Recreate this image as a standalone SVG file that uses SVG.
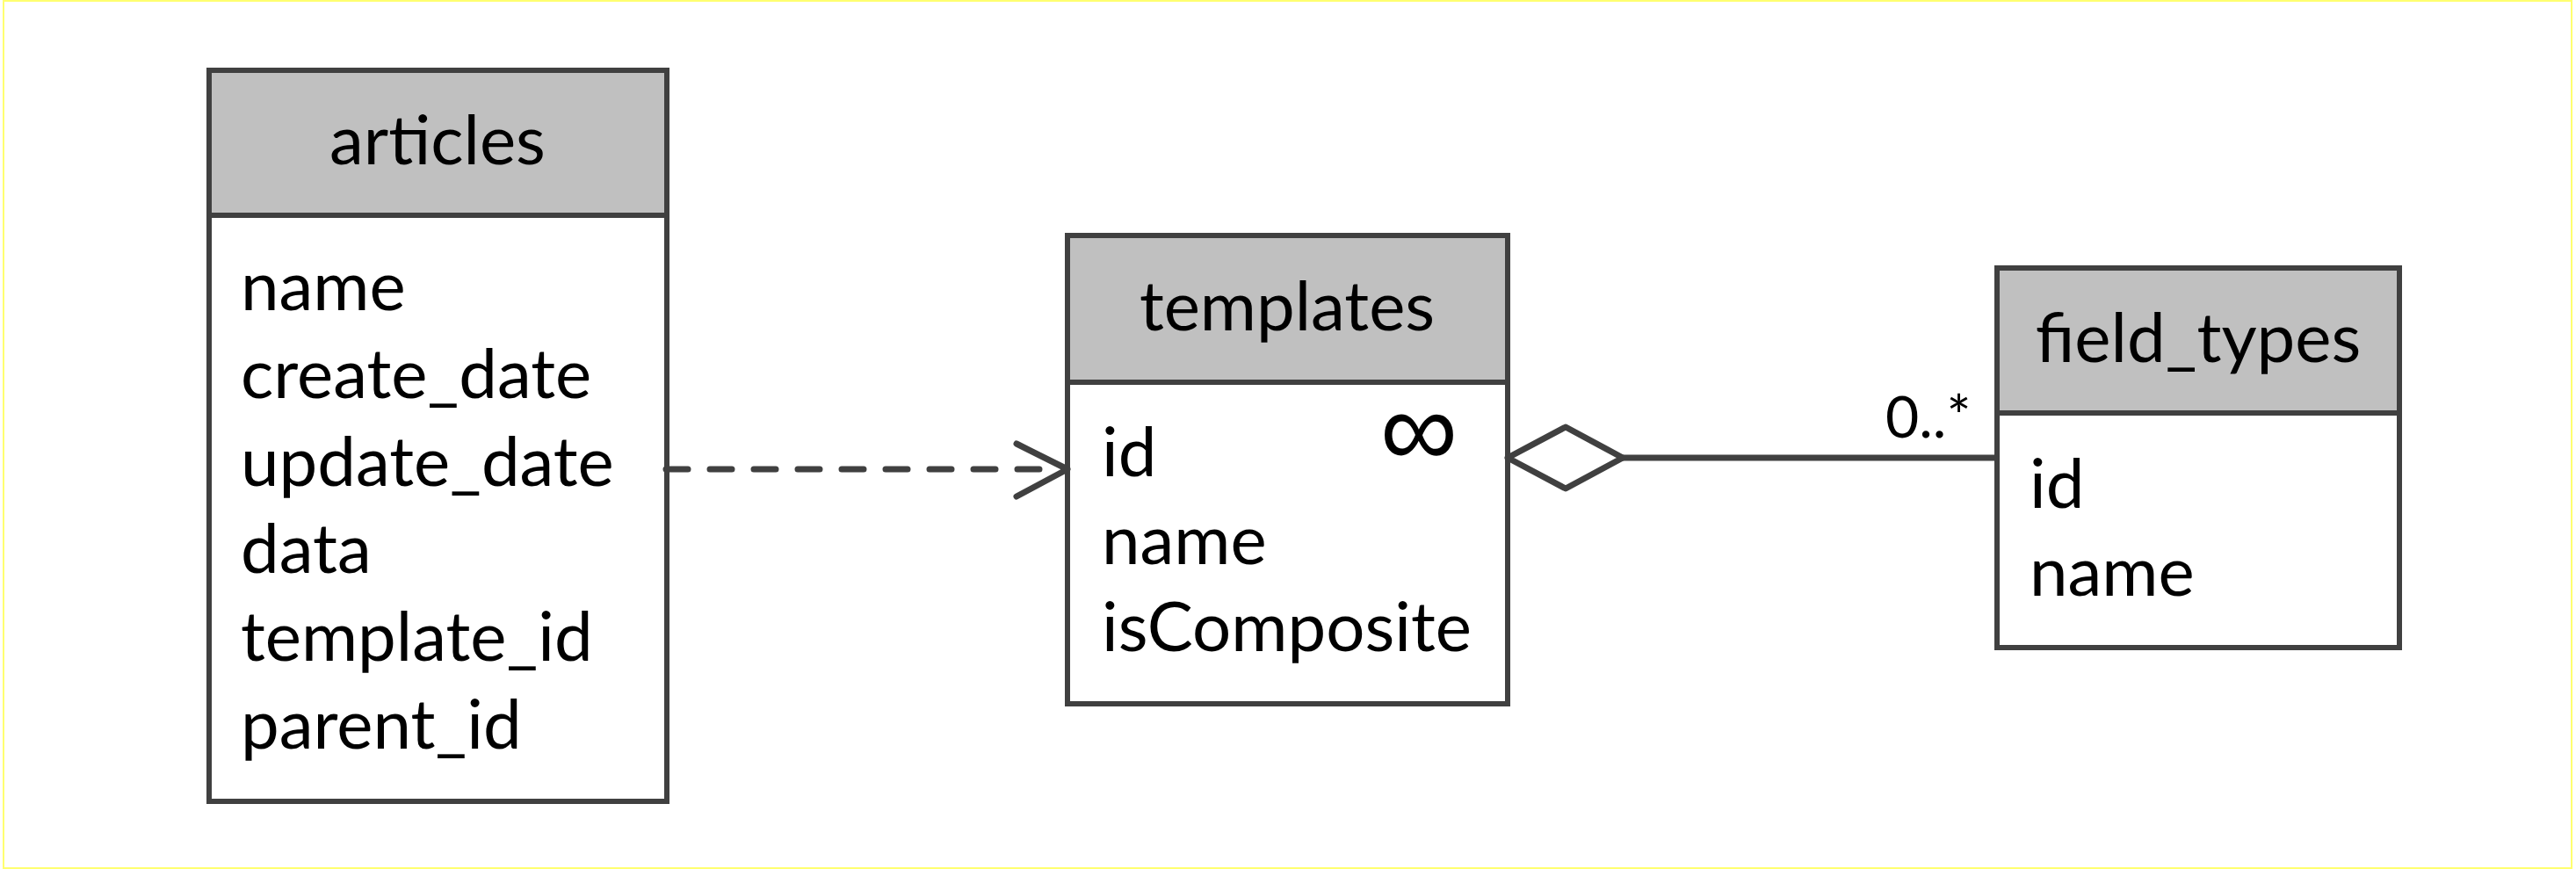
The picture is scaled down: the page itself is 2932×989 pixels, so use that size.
<svg xmlns="http://www.w3.org/2000/svg" width="2932" height="989" viewBox="0 0 2932 989">
<style>
.frame{fill:#ffffff;stroke:#ffff70;stroke-width:2}
.hdr{fill:#c0c0c0;stroke:#404040;stroke-width:6}
.body{fill:#ffffff;stroke:#404040;stroke-width:6}
.t{font-family:Lato,"Open Sans","Liberation Sans",sans-serif;font-size:78px;fill:#000000}
.title{text-anchor:middle}
.conn{fill:none;stroke:#404040;stroke-width:7;stroke-linecap:round;stroke-linejoin:round}
.lbl{font-family:Lato,"Open Sans","Liberation Sans",sans-serif;font-size:66px;fill:#000000}
.inf{font-family:"Liberation Sans",sans-serif;font-size:124px;fill:#000000;text-anchor:middle}
</style>
<rect class="frame" x="4" y="1" width="2923" height="987"/>
<g id="articles">
<rect class="body" x="238" y="245" width="521" height="667"/>
<rect class="hdr" x="238" y="80" width="521" height="165"/>
<text class="t title" x="498" y="187">articles</text>
<text class="t" x="274" y="353">name</text>
<text class="t" x="274" y="453">create_date</text>
<text class="t" x="274" y="553">update_date</text>
<text class="t" x="274" y="652">data</text>
<text class="t" x="274" y="752">template_id</text>
<text class="t" x="274" y="852">parent_id</text>
</g>
<g id="templates">
<rect class="body" x="1215" y="435" width="501" height="366"/>
<rect class="hdr" x="1215" y="268" width="501" height="167"/>
<text class="t title" x="1465" y="376">templates</text>
<text class="t" x="1254" y="542">id</text>
<text class="t" x="1254" y="642">name</text>
<text class="t" x="1254" y="741">isComposite</text>
<text class="inf" x="1615" y="531">∞</text>
</g>
<g id="field_types">
<rect class="body" x="2273" y="470" width="458" height="267"/>
<rect class="hdr" x="2273" y="305" width="458" height="165"/>
<text class="t title" x="2502" y="412">field_types</text>
<text class="t" x="2310" y="578">id</text>
<text class="t" x="2310" y="678">name</text>
</g>
<g id="connectors">
<path class="conn" d="M758 534 H1190" stroke-dasharray="25 25"/>
<polyline class="conn" points="1157,505 1215,534 1157,565"/>
<polygon class="conn" points="1716,521 1782,486 1847,521 1782,556" style="fill:#ffffff"/>
<path class="conn" d="M1847 521 H2272"/>
<text class="lbl" x="2146" y="498">0..*</text>
</g>
</svg>
